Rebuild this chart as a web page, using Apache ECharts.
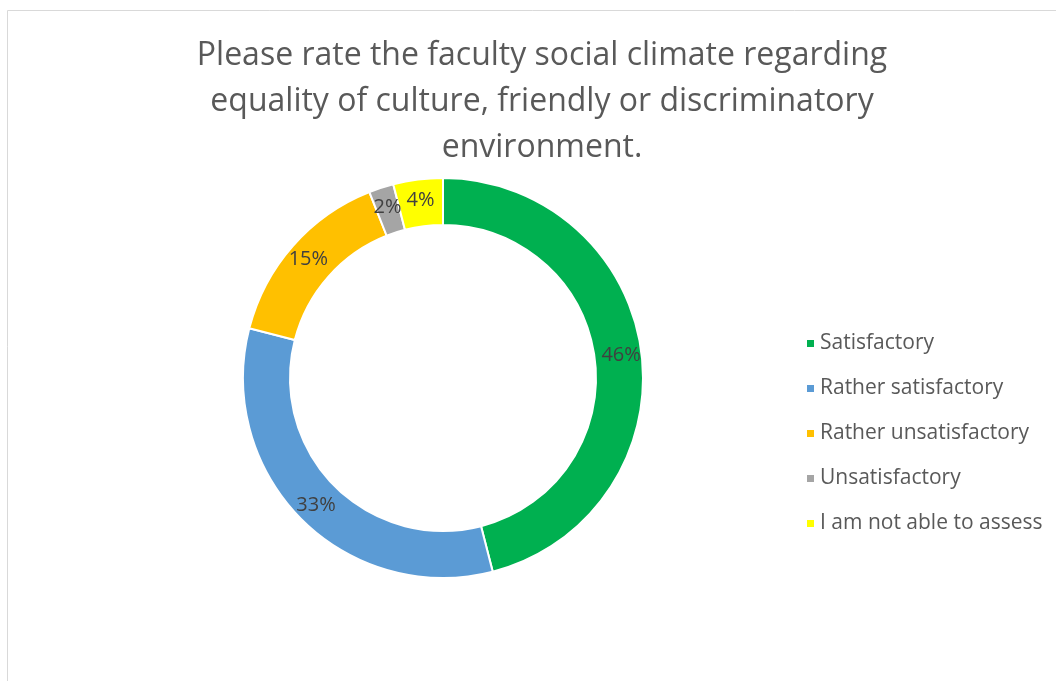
<!DOCTYPE html>
<html><head><meta charset="utf-8">
<script src="https://cdn.jsdelivr.net/npm/echarts@6/dist/echarts.min.js"></script>
<style>html,body{margin:0;padding:0;background:#fff;}#c{width:1056px;height:681px;}</style>
</head><body><div id="c"></div>
<script>
const categories = ['Satisfactory','Rather satisfactory','Rather unsatisfactory','Unsatisfactory','I am not able to assess'];
const values = [46, 33, 15, 2, 4];
const colors = ['#00B050','#5B9BD5','#FFC000','#A5A5A5','#FFFF00'];
const titleText = 'Please rate the faculty social climate regarding\nequality of culture, friendly or discriminatory\nenvironment.';

const chart = echarts.init(document.getElementById('c'));
chart.setOption({
  animation: false,
  graphic: [{
    type: 'rect', shape: {x: 7.5, y: 10.5, width: 1100, height: 700},
    style: {fill: 'none', stroke: '#D9D9D9', lineWidth: 1}, silent: true
  }],
  title: {
    text: titleText, left: 537, top: 28, textAlign: 'center',
    textStyle: {fontFamily: 'Open Sans', fontWeight: 'normal', fontSize: 32, color: '#595959', lineHeight: 46}
  },
  legend: {
    orient: 'vertical', left: 800, top: 328,
    itemWidth: 9, itemHeight: 9, itemGap: 24, icon: 'rect',
    textStyle: {fontFamily: 'Open Sans', fontSize: 21, color: '#595959', lineHeight: 20},
    data: categories
  },
  series: [{
    type: 'pie', center: [443, 378], radius: [153, 200],
    startAngle: 90, clockwise: true,
    itemStyle: {borderColor: '#fff', borderWidth: 2},
    label: {show: true, position: 'inside', formatter: '{c}%', fontFamily: 'Open Sans', fontSize: 20, color: '#404040'},
    labelLine: {show: false},
    data: categories.map((n, i) => ({name: n, value: values[i], itemStyle: {color: colors[i]}}))
  }]
});
</script></body></html>
